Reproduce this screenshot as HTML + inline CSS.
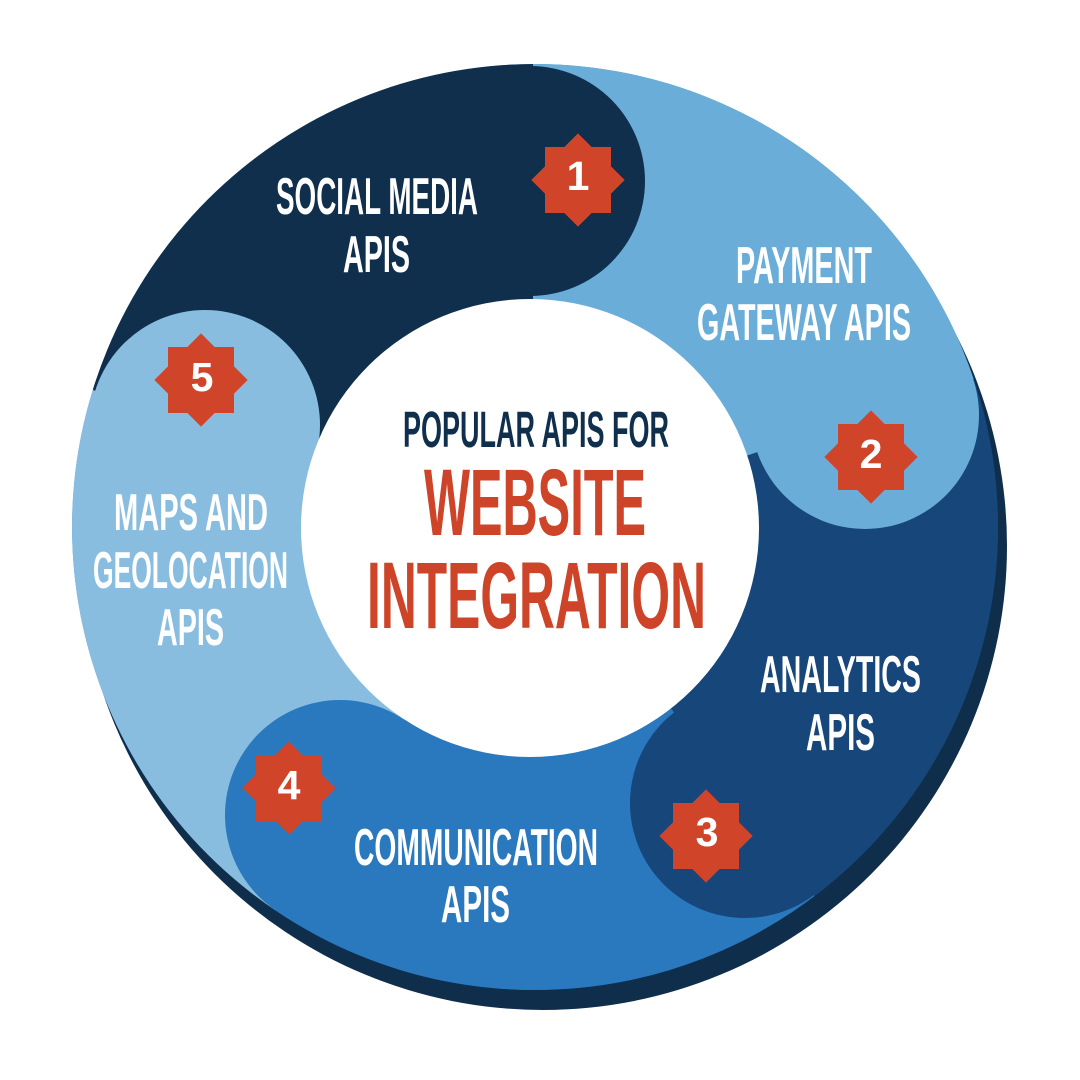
<!DOCTYPE html>
<html><head><meta charset="utf-8"><style>
html,body{margin:0;padding:0;background:#fff;width:1080px;height:1080px;overflow:hidden;}
svg{display:block;}
text{font-family:"Liberation Sans Narrow","Liberation Sans",sans-serif;font-weight:bold;}
</style></head><body>
<svg width="1080" height="1080" viewBox="0 0 1080 1080" xmlns="http://www.w3.org/2000/svg">
<defs>
<clipPath id="mc"><circle cx="535" cy="527" r="463"/></clipPath>
<g id="star"><rect x="-33" y="-33" width="66" height="66" fill="#d0452a"/><rect x="-33" y="-33" width="66" height="66" fill="#d0452a" transform="rotate(45)"/></g>
</defs>
<circle cx="543" cy="546" r="464" fill="#0f2e4b"/>
<g clip-path="url(#mc)">
<circle cx="535" cy="527" r="463" fill="#2a78bd"/>
<path d="M533,528 L-134,319 A700,700 0 0 1 533,-172 Z" fill="#0f2f4d"/>
<path d="M533,528 L533,-172 A700,700 0 0 1 1196,304 Z" fill="#6aadd8"/>
<path d="M533,528 L1196,304 A700,700 0 0 1 958,1084 Z" fill="#16467a"/>
<path d="M533,528 L958,1084 A700,700 0 0 1 142,1108 Z" fill="#2a78bd"/>
<path d="M533,528 L142,1108 A700,700 0 0 1 -134,319 Z" fill="#88bde0"/>
<circle cx="530" cy="181" r="115" fill="#0f2f4d"/>
<circle cx="865" cy="415" r="114" fill="#6aadd8"/>
<circle cx="745" cy="803" r="115" fill="#16467a"/>
<circle cx="340" cy="815" r="115" fill="#2a78bd"/>
<circle cx="205" cy="425" r="115" fill="#88bde0"/>
</g>
<circle cx="530" cy="528" r="229" fill="#fff"/>
<use href="#star" x="578" y="180"/>
<use href="#star" x="871" y="457"/>
<use href="#star" x="706" y="836"/>
<use href="#star" x="289" y="788"/>
<use href="#star" x="201" y="380"/>
<g fill="#fff" text-anchor="middle" font-size="41">
<text x="578" y="190">1</text>
<text x="871" y="468">2</text>
<text x="707" y="846">3</text>
<text x="289" y="799">4</text>
<text x="202" y="391">5</text>
</g>
<g fill="#fff" font-size="52">
<text x="276" y="214" textLength="202" lengthAdjust="spacingAndGlyphs">SOCIAL MEDIA</text>
<text x="343" y="272" textLength="67" lengthAdjust="spacingAndGlyphs">APIS</text>
<text x="736" y="283" textLength="136" lengthAdjust="spacingAndGlyphs">PAYMENT</text>
<text x="697" y="340" textLength="214" lengthAdjust="spacingAndGlyphs">GATEWAY APIS</text>
<text x="760" y="692" textLength="161" lengthAdjust="spacingAndGlyphs">ANALYTICS</text>
<text x="806" y="750" textLength="69" lengthAdjust="spacingAndGlyphs">APIS</text>
<text x="354" y="865" textLength="244" lengthAdjust="spacingAndGlyphs">COMMUNICATION</text>
<text x="441" y="922" textLength="69" lengthAdjust="spacingAndGlyphs">APIS</text>
<text x="114" y="530" textLength="154" lengthAdjust="spacingAndGlyphs">MAPS AND</text>
<text x="93" y="588" textLength="195" lengthAdjust="spacingAndGlyphs">GEOLOCATION</text>
<text x="157" y="645" textLength="67" lengthAdjust="spacingAndGlyphs">APIS</text>
</g>
<text x="403" y="447" font-size="51" fill="#0f2f4d" textLength="266" lengthAdjust="spacingAndGlyphs">POPULAR APIS FOR</text>
<text x="424" y="535" font-size="95" fill="#cd4428" textLength="222" lengthAdjust="spacingAndGlyphs">WEBSITE</text>
<text x="367" y="628" font-size="95" fill="#cd4428" textLength="339" lengthAdjust="spacingAndGlyphs">INTEGRATION</text>
</svg>
</body></html>
